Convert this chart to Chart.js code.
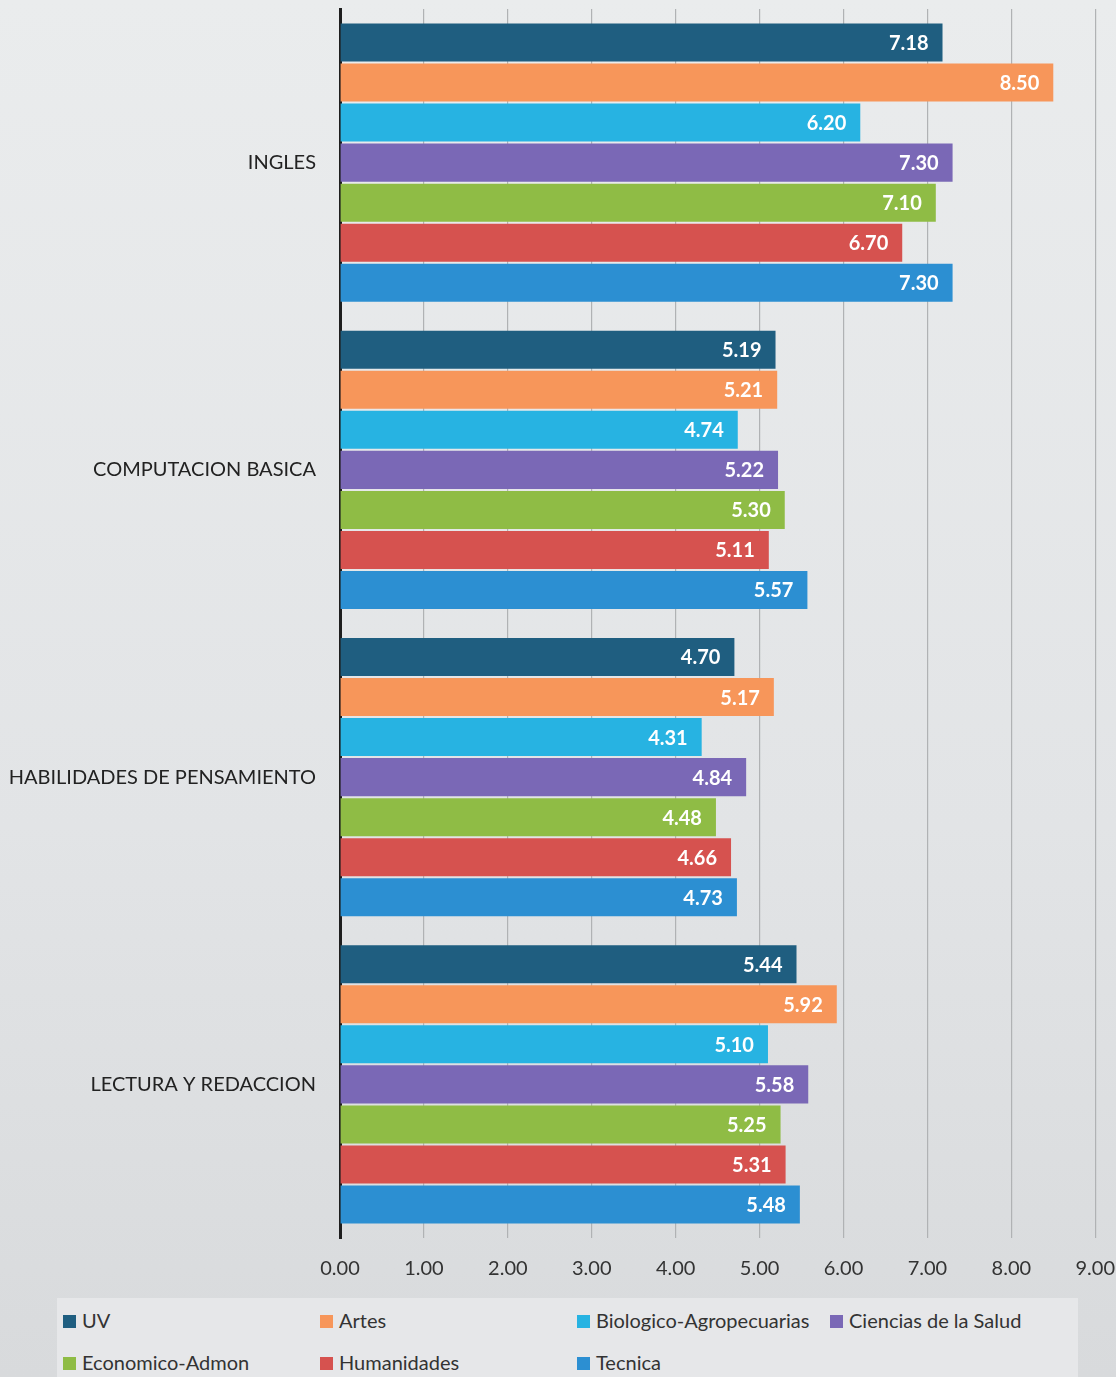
<!DOCTYPE html>
<html>
<head>
<meta charset="utf-8">
<script src="https://cdn.jsdelivr.net/npm/chart.js@4/dist/chart.umd.min.js"></script>
<style>
  html, body { margin: 0; padding: 0; }
  body {
    width: 1116px; height: 1377px; overflow: hidden; position: relative;
    background: linear-gradient(to bottom, #eaeced 0%, #e2e4e6 60%, #d8dadc 100%);
    font-family: Lato, "Open Sans", sans-serif;
  }
  #wrap { position: absolute; left: 0; top: -19px; width: 1134px; height: 1328px; }
  #legend {
    position: absolute; left: 57px; top: 1298px; width: 1021px; height: 90px;
    background: #e6e7e9;
  }
  .item { position: absolute; font-size: 20px; color: #333; white-space: nowrap; line-height: 24px; }
  .item span.sw { display: inline-block; width: 13px; height: 13px; margin-right: 6px; vertical-align: 0px; }
</style>
</head>
<body>
<div id="wrap"><canvas id="c" width="1134" height="1328"></canvas></div>
<div id="legend"></div>
<script>
const categories = ["INGLES", "COMPUTACION BASICA", "HABILIDADES DE PENSAMIENTO", "LECTURA Y REDACCION"];
const seriesNames = ["UV", "Artes", "Biologico-Agropecuarias", "Ciencias de la Salud", "Economico-Admon", "Humanidades", "Tecnica"];
const uv          = [7.18, 5.19, 4.70, 5.44];
const artes       = [8.50, 5.21, 5.17, 5.92];
const biologico   = [6.20, 4.74, 4.31, 5.10];
const ciencias    = [7.30, 5.22, 4.84, 5.58];
const economico   = [7.10, 5.30, 4.48, 5.25];
const humanidades = [6.70, 5.11, 4.66, 5.31];
const tecnica     = [7.30, 5.57, 4.73, 5.48];
const xTicks = [0, 1, 2, 3, 4, 5, 6, 7, 8, 9];

const seriesValues = [uv, artes, biologico, ciencias, economico, humanidades, tecnica];
const colors = ["#1f5e80", "#f7965a", "#27b3e2", "#7a68b6", "#8fbc45", "#d6524f", "#2c8fd2"];

const valueLabels = {
  id: 'valueLabels',
  afterDatasetsDraw(chart) {
    const ctx = chart.ctx;
    ctx.save();
    ctx.font = 'bold 20px Lato, "Open Sans", sans-serif';
    ctx.fillStyle = '#ffffff';
    ctx.textAlign = 'right';
    ctx.textBaseline = 'middle';
    chart.data.datasets.forEach((ds, i) => {
      const meta = chart.getDatasetMeta(i);
      meta.data.forEach((bar, j) => {
        ctx.fillText(ds.data[j].toFixed(2), bar.x - 14, bar.y + 1);
      });
    });
    ctx.restore();
  }
};

new Chart(document.getElementById('c'), {
  type: 'bar',
  data: {
    labels: categories,
    datasets: seriesNames.map((n, i) => ({
      label: n,
      data: seriesValues[i],
      backgroundColor: colors[i],
      borderWidth: 0,
      barPercentage: 0.95,
      categoryPercentage: 0.912
    }))
  },
  options: {
    indexAxis: 'y',
    responsive: false,
    animation: false,
    layout: { padding: { top: 8, right: 6, bottom: 9, left: 0 } },
    plugins: { legend: { display: false }, tooltip: { enabled: false } },
    scales: {
      x: {
        min: 0, max: 9,
        afterBuildTicks(scale) { scale.ticks = xTicks.map(v => ({ value: v })); },
        grid: { color: '#b0b2b4', lineWidth: 1.2, drawTicks: false },
        border: { display: false },
        ticks: {
          padding: 19,
          color: '#333',
          font: { size: 20, family: 'Lato, "Open Sans", sans-serif' },
          callback: v => Number(v).toFixed(2)
        }
      },
      y: {
        afterFit(scale) { scale.width = 340; },
        grid: { display: false },
        border: { display: true, color: '#1e1e1e', width: 3 },
        ticks: {
          padding: 16,
          color: '#222',
          font: { size: 20, family: 'Lato, "Open Sans", sans-serif' }
        }
      }
    }
  },
  plugins: [valueLabels]
});

// HTML legend built from the series arrays
const legend = document.getElementById('legend');
const cols = [6, 263, 520, 773];
const rows = [10, 52];
seriesNames.forEach((n, i) => {
  const d = document.createElement('div');
  d.className = 'item';
  d.style.left = cols[i % 4] + 'px';
  d.style.top = rows[Math.floor(i / 4)] + 'px';
  d.innerHTML = '<span class="sw" style="background:' + colors[i] + '"></span>' + n;
  legend.appendChild(d);
});
</script>
</body>
</html>
